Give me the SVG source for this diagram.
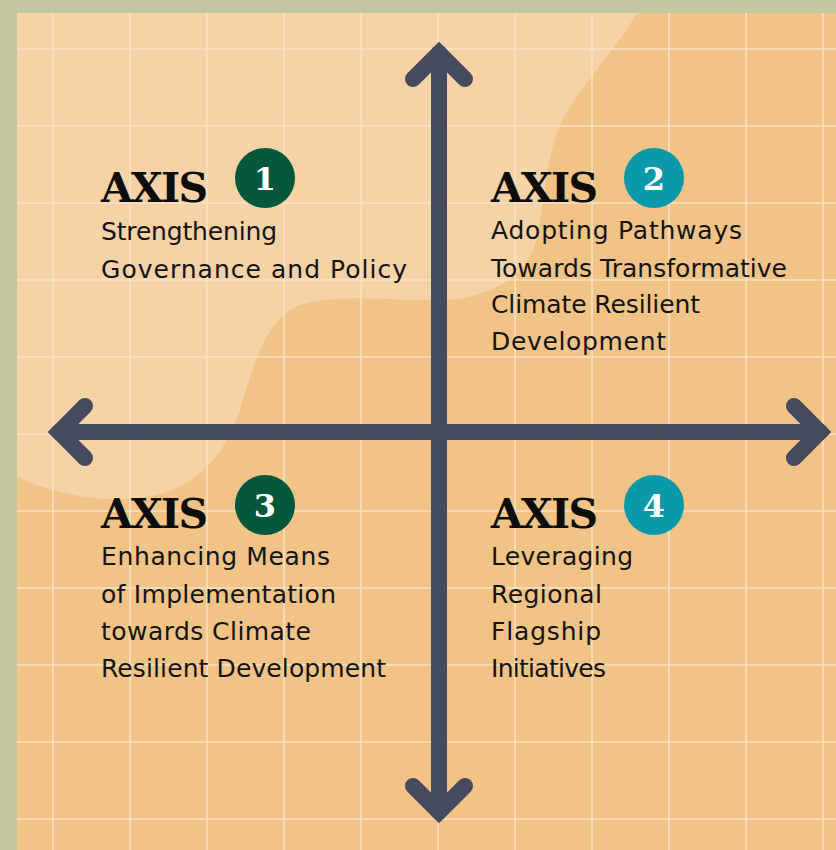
<svg xmlns="http://www.w3.org/2000/svg" width="836" height="850" viewBox="0 0 836 850">
  <style>
    .grid line { stroke: #fbe1c2; stroke-width: 1.6; }
    .axis-line { fill: none; stroke: #464a5f; stroke-width: 16; stroke-linecap: round; stroke-linejoin: miter; }
    .title { font-family: "DejaVu Serif", "Liberation Serif", serif; font-weight: bold; font-size: 41px; fill: #0d0d0d; }
    .num { font-family: "DejaVu Serif", "Liberation Serif", serif; font-weight: bold; font-size: 32px; fill: #fff; text-anchor: middle; }
    .body { font-family: "DejaVu Sans", "Liberation Sans", sans-serif; font-size: 25px; fill: #141414; }
    .green { fill: #03573a; }
    .teal { fill: #0a99a8; }
  </style>

  <!-- frame and paper -->
  <rect x="0" y="0" width="836" height="850" fill="#c3c6a1"/>
  <rect x="17" y="13" width="819" height="837" fill="#f1c386"/>
  <!-- lighter wash in the upper-left -->
  <path d="M17,13 H637 C615,50 590,75 565,115 C545,150 545,210 535,245 C520,285 480,298 445,300 C400,302 340,292 300,305 C265,318 252,370 240,410 C225,455 195,492 140,498 C90,503 45,490 17,477 Z" fill="#f6d2a7"/>

  <!-- grid -->
  <g class="grid">
    <line x1="53" y1="13" x2="53" y2="850"/>
    <line x1="130" y1="13" x2="130" y2="850"/>
    <line x1="207" y1="13" x2="207" y2="850"/>
    <line x1="284" y1="13" x2="284" y2="850"/>
    <line x1="361" y1="13" x2="361" y2="850"/>
    <line x1="438" y1="13" x2="438" y2="850"/>
    <line x1="515" y1="13" x2="515" y2="850"/>
    <line x1="592" y1="13" x2="592" y2="850"/>
    <line x1="669" y1="13" x2="669" y2="850"/>
    <line x1="746" y1="13" x2="746" y2="850"/>
    <line x1="823" y1="13" x2="823" y2="850"/>
    <line x1="17" y1="49" x2="836" y2="49"/>
    <line x1="17" y1="126" x2="836" y2="126"/>
    <line x1="17" y1="203" x2="836" y2="203"/>
    <line x1="17" y1="280" x2="836" y2="280"/>
    <line x1="17" y1="357" x2="836" y2="357"/>
    <line x1="17" y1="434" x2="836" y2="434"/>
    <line x1="17" y1="511" x2="836" y2="511"/>
    <line x1="17" y1="588" x2="836" y2="588"/>
    <line x1="17" y1="665" x2="836" y2="665"/>
    <line x1="17" y1="742" x2="836" y2="742"/>
    <line x1="17" y1="819" x2="836" y2="819"/>
  </g>

  <!-- axes with chevron heads -->
  <g id="connectors">
    <line class="axis-line" x1="59" y1="432" x2="820" y2="432"/>
    <line class="axis-line" x1="439" y1="53" x2="439" y2="812"/>
    <polyline class="axis-line" points="85,406 59,432 85,458"/>
    <polyline class="axis-line" points="794,406 820,432 794,458"/>
    <polyline class="axis-line" points="413,79 439,53 465,79"/>
    <polyline class="axis-line" points="413,786 439,812 465,786"/>
  </g>

  <g id="axis-1">
    <text class="title" x="101" y="202" textLength="107">AXIS</text>
    <circle class="green" cx="265" cy="178" r="30"/>
    <text class="num" x="265" y="190">1</text>
    <text class="body" x="101" y="240" textLength="176">Strengthening</text>
    <text class="body" x="101" y="278" textLength="306">Governance and Policy</text>
  </g>

  <g id="axis-2">
    <text class="title" x="491" y="202" textLength="107">AXIS</text>
    <circle class="teal" cx="654" cy="178" r="30"/>
    <text class="num" x="654" y="190">2</text>
    <text class="body" x="491" y="239" textLength="251">Adopting Pathways</text>
    <text class="body" x="491" y="277" textLength="296">Towards Transformative</text>
    <text class="body" x="491" y="313" textLength="209">Climate Resilient</text>
    <text class="body" x="491" y="350" textLength="175">Development</text>
  </g>

  <g id="axis-3">
    <text class="title" x="101" y="528" textLength="107">AXIS</text>
    <circle class="green" cx="265" cy="505" r="30"/>
    <text class="num" x="265" y="517">3</text>
    <text class="body" x="101" y="565" textLength="229">Enhancing Means</text>
    <text class="body" x="101" y="603" textLength="235">of Implementation</text>
    <text class="body" x="101" y="640" textLength="210">towards Climate</text>
    <text class="body" x="101" y="677" textLength="285">Resilient Development</text>
  </g>

  <g id="axis-4">
    <text class="title" x="491" y="528" textLength="107">AXIS</text>
    <circle class="teal" cx="654" cy="505" r="30"/>
    <text class="num" x="654" y="517">4</text>
    <text class="body" x="491" y="565" textLength="142">Leveraging</text>
    <text class="body" x="491" y="603" textLength="111">Regional</text>
    <text class="body" x="491" y="640" textLength="110">Flagship</text>
    <text class="body" x="491" y="677" textLength="115">Initiatives</text>
  </g>
</svg>
